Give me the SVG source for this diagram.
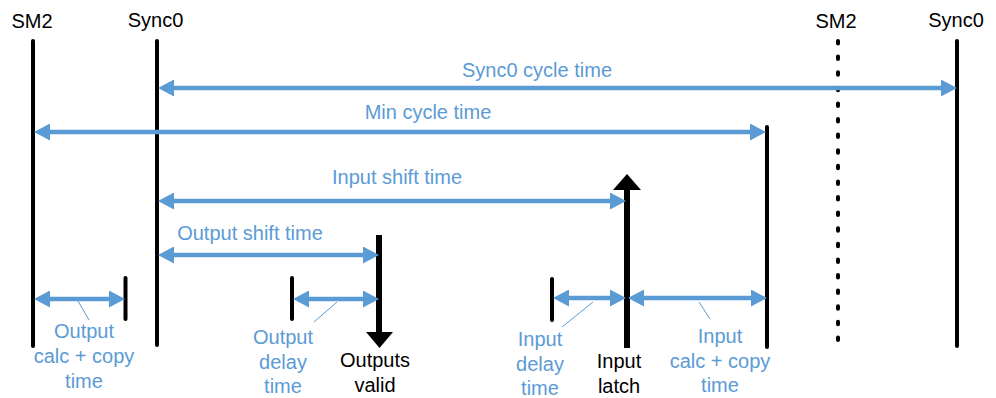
<svg xmlns="http://www.w3.org/2000/svg" width="996" height="398" viewBox="0 0 996 398">
<style>
text{font-family:"Liberation Sans",Arial,sans-serif;font-size:20px;text-anchor:middle}
.bt{fill:#000}
.lt{fill:#5B9BD5}
.bar{stroke:#000;stroke-width:4;stroke-linecap:round;fill:none}
.thick{stroke:#000;stroke-width:6;fill:none}
.dot{stroke:#000;stroke-width:4;stroke-linecap:round;stroke-dasharray:2.5 13.1;fill:none}
.arr{stroke:#5B9BD5;stroke-width:4.5;fill:none;marker-start:url(#ah);marker-end:url(#ah)}
.lead{stroke:#5B9BD5;stroke-width:1;fill:none}
</style>
<defs>
<marker id="ah" viewBox="0 0 16 17" markerWidth="16" markerHeight="17" refX="6" refY="8.5" markerUnits="userSpaceOnUse" orient="auto-start-reverse">
<path d="M0,0 L16,8.5 L0,17 Z" fill="#5B9BD5"/>
</marker>
</defs>
<rect width="996" height="398" fill="#fff"/>
<g id="sm2-left">
<line class="bar" x1="33" y1="41" x2="33" y2="346"/>
<text class="bt" x="32" y="28">SM2</text>
</g>
<g id="sync0-left">
<line class="bar" x1="157" y1="41" x2="157" y2="345"/>
<text class="bt" x="155.5" y="27">Sync0</text>
</g>
<g id="min-cycle-end">
<line class="bar" x1="767" y1="127" x2="767" y2="347"/>
</g>
<g id="sm2-right">
<line class="dot" x1="838" y1="41" x2="838" y2="352"/>
<text class="bt" x="836" y="28">SM2</text>
</g>
<g id="sync0-right">
<line class="bar" x1="957" y1="41" x2="957" y2="346"/>
<text class="bt" x="956" y="27">Sync0</text>
</g>
<g id="output-calc-end">
<line class="bar" x1="125.5" y1="278" x2="125.5" y2="319"/>
</g>
<g id="output-delay-start">
<line class="bar" x1="292" y1="278" x2="292" y2="319"/>
</g>
<g id="input-delay-start">
<line class="bar" x1="552" y1="279" x2="552" y2="320"/>
</g>
<g id="outputs-valid">
<line class="thick" x1="379" y1="235" x2="379" y2="334"/>
<polygon points="366,332 393,332 379.5,348" fill="#000"/>
<text class="bt" x="375" y="367">Outputs</text>
<text class="bt" x="375" y="392">valid</text>
</g>
<g id="input-latch">
<line class="thick" x1="627" y1="188" x2="627" y2="348"/>
<polygon points="613,190 641,190 627,174" fill="#000"/>
<text class="bt" x="619" y="368">Input</text>
<text class="bt" x="619" y="393">latch</text>
</g>
<g id="connectors">
<line class="arr" x1="168" y1="88" x2="947" y2="88"/>
<line class="arr" x1="44" y1="132" x2="756" y2="132"/>
<line class="arr" x1="168" y1="201" x2="616" y2="201"/>
<line class="arr" x1="168" y1="255" x2="369" y2="255"/>
<line class="arr" x1="44" y1="299" x2="115" y2="299"/>
<line class="arr" x1="303" y1="299" x2="369" y2="299"/>
<line class="arr" x1="563" y1="298" x2="616" y2="298"/>
<line class="arr" x1="638" y1="298" x2="757" y2="298"/>
<line class="lead" x1="78" y1="301" x2="89" y2="320"/>
<line class="lead" x1="337" y1="302" x2="314" y2="322"/>
<line class="lead" x1="593" y1="302" x2="562" y2="327"/>
<line class="lead" x1="699" y1="302" x2="710" y2="319"/>
</g>
<g id="labels">
<text class="lt" x="537" y="77">Sync0 cycle time</text>
<text class="lt" x="428" y="119">Min cycle time</text>
<text class="lt" x="397" y="184">Input shift time</text>
<text class="lt" x="250" y="240">Output shift time</text>
<text class="lt" x="84" y="338">Output</text>
<text class="lt" x="84" y="363">calc + copy</text>
<text class="lt" x="84" y="388">time</text>
<text class="lt" x="283" y="344">Output</text>
<text class="lt" x="283" y="368.5">delay</text>
<text class="lt" x="283" y="393">time</text>
<text class="lt" x="540" y="346">Input</text>
<text class="lt" x="540" y="370.5">delay</text>
<text class="lt" x="540" y="395">time</text>
<text class="lt" x="720" y="343">Input</text>
<text class="lt" x="720" y="367.5">calc + copy</text>
<text class="lt" x="720" y="392">time</text>
</g>
</svg>
